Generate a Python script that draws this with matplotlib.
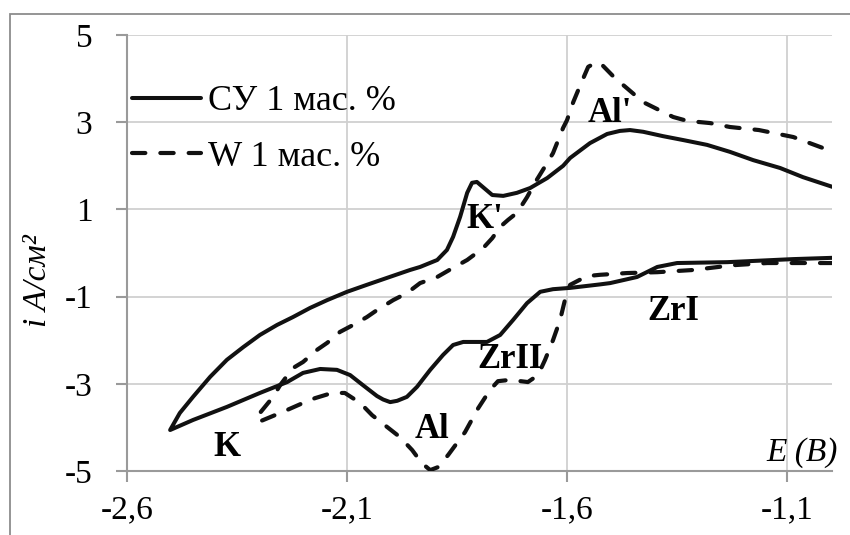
import matplotlib
matplotlib.use('Agg')
import matplotlib.pyplot as plt
from matplotlib.patches import Rectangle

plt.rcParams.update({
    'font.family': ['Liberation Serif', 'DejaVu Serif'],
    'font.size': 24,
    'savefig.facecolor': 'white',
})

# СУ 1 мас. % -- cathodic branch (right -> vertex), then anodic branch (vertex -> right)
su_cath_E = [-0.995, -1.086, -1.236, -1.35, -1.395, -1.441, -1.502, -1.525, -1.593, -1.632,
             -1.661, -1.691, -1.723, -1.752, -1.782, -1.836, -1.859, -1.882, -1.911, -1.941,
             -1.964, -1.986, -2.002, -2.018, -2.032, -2.064, -2.093, -2.123, -2.161, -2.2,
             -2.236, -2.298, -2.373, -2.45, -2.502]
su_cath_i = [-0.11, -0.14, -0.21, -0.23, -0.32, -0.55, -0.69, -0.72, -0.80, -0.83,
             -0.89, -1.15, -1.54, -1.88, -2.04, -2.04, -2.11, -2.34, -2.68, -3.07,
             -3.30, -3.39, -3.42, -3.36, -3.28, -3.03, -2.80, -2.68, -2.66, -2.75,
             -2.96, -3.21, -3.53, -3.83, -4.06]
su_anod_E = [-2.502, -2.48, -2.45, -2.411, -2.373, -2.336, -2.298, -2.259, -2.223, -2.184,
             -2.145, -2.1, -2.055, -2.009, -1.957, -1.934, -1.895, -1.873, -1.859, -1.843,
             -1.827, -1.816, -1.805, -1.791, -1.77, -1.745, -1.714, -1.684, -1.645, -1.609,
             -1.593, -1.548, -1.509, -1.48, -1.457, -1.427, -1.382, -1.336, -1.282, -1.23,
             -1.177, -1.116, -1.064, -0.995]
su_anod_i = [-4.06, -3.67, -3.30, -2.84, -2.45, -2.16, -1.88, -1.65, -1.47, -1.26,
             -1.08, -0.89, -0.73, -0.57, -0.39, -0.32, -0.16, 0.07, 0.37, 0.83,
             1.38, 1.61, 1.63, 1.51, 1.33, 1.31, 1.38, 1.49, 1.72, 2.00,
             2.18, 2.52, 2.73, 2.80, 2.82, 2.78, 2.68, 2.59, 2.48, 2.32,
             2.13, 1.95, 1.74, 1.51]

# W 1 мас. %
w_cath_E = [-0.995, -1.145, -1.223, -1.314, -1.395, -1.464, -1.525, -1.555, -1.593, -1.602,
            -1.616, -1.632, -1.65, -1.666, -1.689, -1.73, -1.757, -1.775, -1.802, -1.832,
            -1.87, -1.893, -1.911, -1.93, -1.952, -1.98, -2.009, -2.043, -2.07, -2.105,
            -2.134, -2.173, -2.2, -2.236, -2.264, -2.302]
w_cath_i = [-0.23, -0.23, -0.28, -0.39, -0.44, -0.46, -0.50, -0.53, -0.73, -0.96,
            -1.54, -2.00, -2.45, -2.80, -2.96, -2.91, -2.94, -3.14, -3.56, -4.11,
            -4.63, -4.91, -4.98, -4.82, -4.52, -4.22, -3.99, -3.72, -3.44, -3.21,
            -3.21, -3.33, -3.44, -3.60, -3.72, -3.88]
w_anod_E = [-2.302, -2.298, -2.268, -2.252, -2.223, -2.2, -2.168, -2.145, -2.116, -2.086,
            -2.055, -2.032, -1.995, -1.964, -1.934, -1.895, -1.859, -1.827, -1.791, -1.77,
            -1.752, -1.734, -1.714, -1.691, -1.673, -1.648, -1.632, -1.609, -1.6, -1.586,
            -1.57, -1.552, -1.532, -1.52, -1.491, -1.464, -1.427, -1.395, -1.359, -1.327,
            -1.275, -1.23, -1.164, -1.086, -0.995]
w_anod_i = [-3.88, -3.67, -3.30, -3.03, -2.64, -2.50, -2.22, -2.06, -1.81, -1.65,
            -1.47, -1.31, -1.08, -0.92, -0.69, -0.55, -0.34, -0.16, 0.11, 0.34,
            0.60, 0.76, 0.92, 1.28, 1.61, 2.02, 2.29, 2.87, 3.05, 3.46,
            3.85, 4.27, 4.38, 4.31, 4.01, 3.78, 3.46, 3.30, 3.12, 3.03,
            2.98, 2.89, 2.82, 2.66, 2.32]

peak_labels = ['K', 'Al', 'ZrII', 'ZrI', "K'", "Al'"]
peak_E = [-2.373, -1.907, -1.73, -1.359, -1.786, -1.502]
peak_i = [-4.47, -4.04, -2.45, -1.35, 0.76, 3.21]

x_ticks = [-2.6, -2.1, -1.6, -1.1]
x_tick_labels = ['-2,6', '-2,1', '-1,6', '-1,1']
y_ticks = [-5, -3, -1, 1, 3, 5]
y_tick_labels = ['-5', '-3', '-1', '1', '3', '5']

fig = plt.figure(figsize=(8.5, 5.35), dpi=100)
ax = fig.add_axes([127/850, 1 - 471/535, 705/850, 436/535])

# outer chart border (partly cropped in the original)
fig.patches.append(Rectangle((10/850, -0.1), 1.2, 1.1 - 14/535, transform=fig.transFigure,
                             fill=False, ec='#8c8c8c', lw=1.3, zorder=0))

ax.plot(su_cath_E + su_anod_E, su_cath_i + su_anod_i, color='#111111', lw=2.9,
        solid_capstyle='round', solid_joinstyle='round', label='СУ 1 мас. %', zorder=3)
ax.plot(w_cath_E + w_anod_E, w_cath_i + w_anod_i, color='#111111', lw=3.0,
        dashes=(3.2, 3.6), dash_capstyle='round', dash_joinstyle='round',
        label='W 1 мас. %', zorder=3)

for lab, e, i in zip(peak_labels, peak_E, peak_i):
    ax.text(e, i, lab, fontsize=25, fontweight='bold', ha='center', va='center', zorder=4)

ax.set_xlim(-2.6, -0.998)
ax.set_ylim(-5, 5)
ax.set_xticks(x_ticks)
ax.set_xticklabels(x_tick_labels)
ax.set_yticks(y_ticks)
ax.set_yticklabels(y_tick_labels)
ax.grid(True, color='#d0d0d0', lw=1.3, zorder=0)
ax.set_axisbelow(True)

for s in ['top', 'right']:
    ax.spines[s].set_visible(False)
for s in ['left', 'bottom']:
    ax.spines[s].set_color('#9a9a9a')
    ax.spines[s].set_linewidth(1.5)
ax.tick_params(axis='both', direction='out', length=8, width=1.5, color='#9a9a9a',
               labelsize=24)
ax.tick_params(axis='y', pad=17)
ax.tick_params(axis='x', pad=9)

ax.text(1.008, 0.008, 'E (B)', transform=ax.transAxes, fontsize=24, style='italic',
        ha='right', va='bottom')
fig.text(38/850, 1 - 281/535, 'i A/см²', rotation=90, fontsize=24, style='italic',
         ha='center', va='center')

ax.legend(loc='upper left', bbox_to_anchor=(0.007, 0.885), frameon=False, fontsize=26,
          handlelength=1.9, handletextpad=0.2, labelspacing=0.62, borderpad=0,
          borderaxespad=0)

fig.savefig('out.png', dpi=100)
